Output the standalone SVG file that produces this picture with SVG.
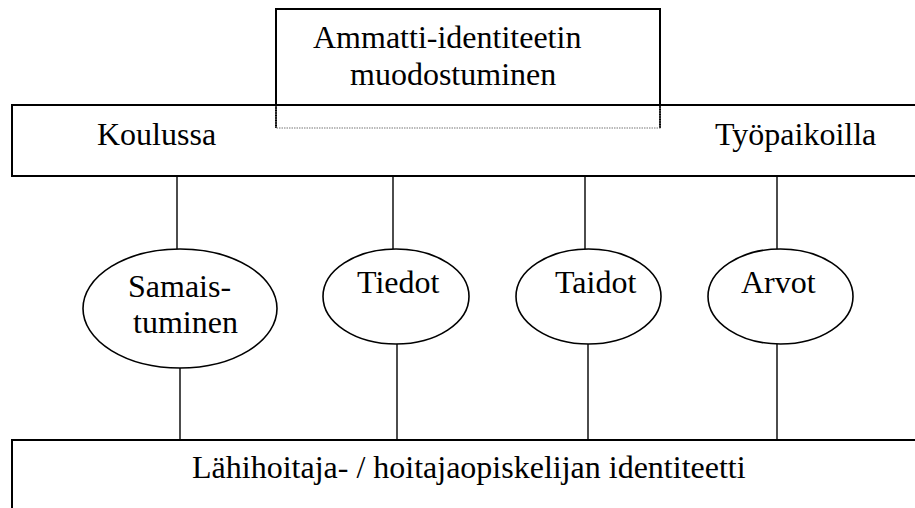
<svg xmlns="http://www.w3.org/2000/svg" width="915" height="508" viewBox="0 0 915 508">
<style>
  text { font-family: "Liberation Serif", "Times New Roman", serif; font-size: 32px; fill: #000; }
  .box { fill: none; stroke: #000; stroke-width: 2; }
  .oval { fill: #fff; stroke: #000; stroke-width: 1.6; }
  .conn { stroke: #000; stroke-width: 1.4; fill: none; }
  .dot { fill: none; stroke: #777; stroke-width: 1.2; stroke-dasharray: 1.5 1; }
</style>
<rect width="915" height="508" fill="#fff"/>
<g id="connectors">
  <line class="conn" x1="177" y1="176" x2="177" y2="249"/>
  <line class="conn" x1="393" y1="176" x2="393" y2="249"/>
  <line class="conn" x1="585" y1="176" x2="585" y2="249"/>
  <line class="conn" x1="777" y1="176" x2="777" y2="249"/>
  <line class="conn" x1="180" y1="368" x2="180" y2="440"/>
  <line class="conn" x1="397" y1="344" x2="397" y2="440"/>
  <line class="conn" x1="588" y1="344" x2="588" y2="440"/>
  <line class="conn" x1="777" y1="344" x2="777" y2="440"/>
</g>
<g id="top">
  <path class="box" d="M276 128 V9 H660 V128"/>
  <text x="313" y="48">Ammatti-identiteetin</text>
  <text x="350" y="85">muodostuminen</text>
</g>
<g id="context">
  <path class="box" d="M930 105 H12 V176 H930"/>
  <path class="dot" d="M276 106 V128 H660 V106"/>
  <text x="97" y="145">Koulussa</text>
  <text x="715" y="145">Työpaikoilla</text>
</g>
<g id="samaistuminen">
  <ellipse class="oval" cx="180" cy="308.5" rx="97" ry="59.5"/>
  <text x="128" y="297">Samais-</text>
  <text x="133" y="333">tuminen</text>
</g>
<g id="tiedot">
  <ellipse class="oval" cx="396" cy="296.5" rx="73" ry="47.5"/>
  <text x="357" y="293">Tiedot</text>
</g>
<g id="taidot">
  <ellipse class="oval" cx="588.5" cy="296.5" rx="72.5" ry="47.5"/>
  <text x="555" y="293">Taidot</text>
</g>
<g id="arvot">
  <ellipse class="oval" cx="780.5" cy="296.5" rx="72.5" ry="47.5"/>
  <text x="741" y="293">Arvot</text>
</g>
<g id="identiteetti">
  <path class="box" d="M930 440 H12 V520"/>
  <text x="192" y="478">Lähihoitaja- / hoitajaopiskelijan identiteetti</text>
</g>
</svg>
